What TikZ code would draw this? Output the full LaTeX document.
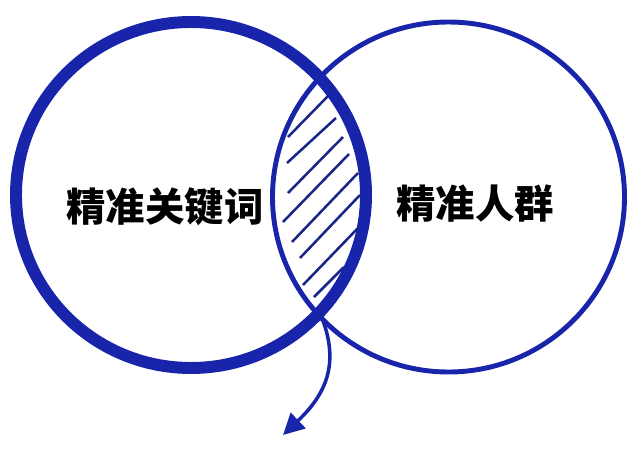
\documentclass[tikz,border=0pt]{standalone}
\usepackage{fontspec}
\newfontfamily\cjk{Noto Sans CJK SC}
\usetikzlibrary{arrows.meta}
\definecolor{ringblue}{RGB}{24,36,170}
\definecolor{hatchblue}{RGB}{26,38,135}
\begin{document}
\begin{tikzpicture}
  [x=0.025cm,y=-0.025cm,every node/.style={font=\cjk\bfseries\fontsize{28}{28}\selectfont}]
  \useasboundingbox (0,0) rectangle (640,454);
  \draw[ringblue,line width=3.5pt] (448.5,197) ellipse [x radius=176,y radius=175];
  \draw[ringblue,line width=8.5pt] (191,195) ellipse [x radius=175,y radius=173];
  \foreach \xa/\ya/\xb/\yb in {288/137/328/96,287/163/336/118,288/193/343/137,
      283/222/349/154,292/242/358/173,300/258/360/195,303/285/359/227,314/297/344/267}
    \draw[hatchblue,line width=1.8pt] (\xa,\ya) -- (\xb,\yb);
  \coordinate (cut) at (322,318);
  \coordinate (tip) at (283,435);
  \draw[ringblue,line width=2.5pt,-{Triangle[length=15pt,width=15pt]}]
    (cut) .. controls (340,365) and (325,395) .. (tip);
  \node (kw) at (165,207) {精准关键词};
  \node (crowd) at (475,204) {精准人群};
\end{tikzpicture}
\end{document}
